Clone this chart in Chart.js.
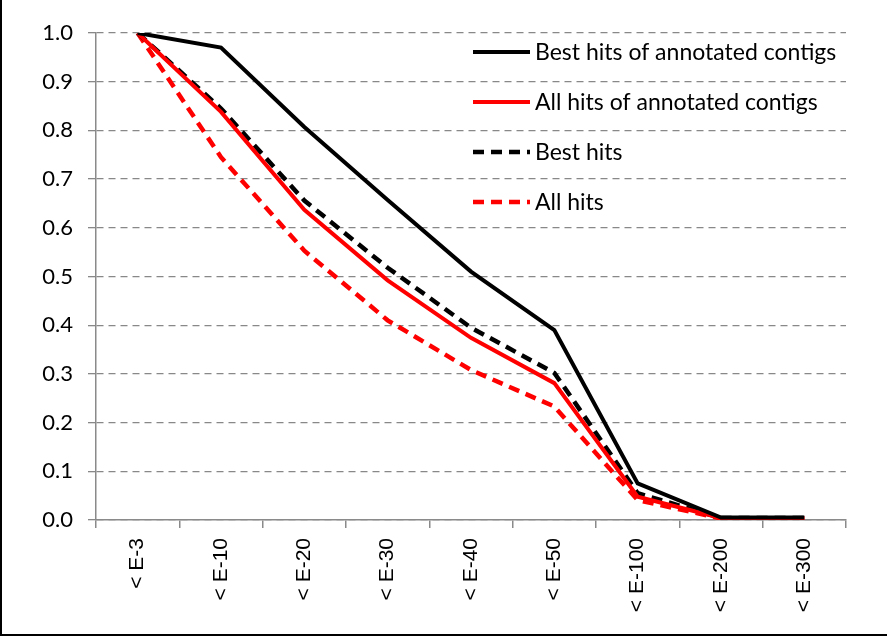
<!DOCTYPE html>
<html>
    <head>
        <meta charset="utf-8"/>
        <title>Best hits / all hits</title>
        <script src="https://cdn.jsdelivr.net/npm/chart.js@4.4.1/dist/chart.umd.min.js"></script>
        <style>
            body { margin: 0; background: #fff; }
            #wrap { position: relative; width: 887px; height: 636px; }
            #wrap canvas { position: absolute; left: 0; top: 0; }
            .edge { position: absolute; background: #000; }
        </style>
    </head>

    <body>
        <div id="wrap">
            <canvas id="chart" width="887" height="636"></canvas>
            <div class="edge" style="left:0;top:0;width:2px;height:636px;"></div>
            <div class="edge" style="left:0;top:634px;width:887px;height:2px;"></div>
        </div>

        <script>
            var labels = ['< E-3', '< E-10', '< E-20', '< E-30', '< E-40', '< E-50', '< E-100', '< E-200', '< E-300'];
            var bestAnnotated = [1.0, 0.97, 0.807, 0.657, 0.51, 0.39, 0.075, 0.005, 0.005];
            var allAnnotated  = [1.0, 0.838, 0.637, 0.492, 0.374, 0.281, 0.048, 0.004, 0.004];
            var bestHits      = [1.0, 0.845, 0.656, 0.518, 0.395, 0.302, 0.055, 0.004, 0.004];
            var allHits       = [1.0, 0.745, 0.553, 0.41, 0.308, 0.233, 0.041, 0.003, 0.003];

            var seriesNames = ['Best hits of annotated contigs', 'All hits of annotated contigs', 'Best hits', 'All hits'];
            var dash = [11, 7];

            // legend drawn inside the plot, one column, like the original
            var insideLegend = {
                id: 'insideLegend',
                afterDraw: function(chart) {
                    var ctx = chart.ctx;
                    ctx.save();
                    ctx.font = '23px Lato';
                    ctx.textBaseline = 'middle';
                    chart.data.datasets.forEach(function(ds, i) {
                        var y = 52 + i * 50;
                        ctx.beginPath();
                        ctx.lineWidth = ds.borderWidth;
                        ctx.strokeStyle = ds.borderColor;
                        ctx.setLineDash(ds.borderDash || []);
                        ctx.moveTo(473, y);
                        ctx.lineTo(530, y);
                        ctx.stroke();
                        ctx.setLineDash([]);
                        ctx.fillStyle = '#000';
                        ctx.fillText(ds.label, 535, y + 1);
                    });
                    ctx.restore();
                }
            };

            var ctx = document.getElementById('chart');
            var myChart = new Chart(ctx, {
                type: 'line',
                data: {
                    labels: labels,
                    datasets: [
                        { label: seriesNames[0], data: bestAnnotated, borderColor: '#000000', borderWidth: 4 },
                        { label: seriesNames[1], data: allAnnotated, borderColor: '#ff0000', borderWidth: 4 },
                        { label: seriesNames[2], data: bestHits, borderColor: '#000000', borderWidth: 4.5, borderDash: dash },
                        { label: seriesNames[3], data: allHits, borderColor: '#ff0000', borderWidth: 4.5, borderDash: dash }
                    ]
                },
                options: {
                    responsive: false,
                    animation: false,
                    layout: { padding: { left: 0, top: 33, right: 41, bottom: 0 } },
                    elements: {
                        line: { tension: 0, fill: false },
                        point: { radius: 0 }
                    },
                    scales: {
                        x: {
                            offset: true,
                            grid: { drawOnChartArea: false, offset: true, tickLength: 8, color: '#8a8a8a', lineWidth: 1.5 },
                            border: { color: '#8a8a8a', width: 1.5 },
                            ticks: {
                                minRotation: 90, maxRotation: 90, padding: 10, color: '#000',
                                font: { family: 'Liberation Sans', size: 21 }
                            },
                            afterFit: function(s) { s.height = 116; }
                        },
                        y: {
                            min: 0, max: 1,
                            grid: { color: '#888888', lineWidth: 1.3, tickLength: 8 },
                            border: { color: '#8a8a8a', width: 1.5, dash: [7, 5] },
                            ticks: {
                                stepSize: 0.1, padding: 15, color: '#000',
                                font: { family: 'Lato', size: 22 },
                                callback: function(v) { return v.toFixed(1); }
                            },
                            afterFit: function(s) { s.width = 96; }
                        }
                    },
                    plugins: {
                        legend: { display: false },
                        tooltip: { enabled: false }
                    }
                },
                plugins: [insideLegend]
            });
        </script>
    </body>
</html>
